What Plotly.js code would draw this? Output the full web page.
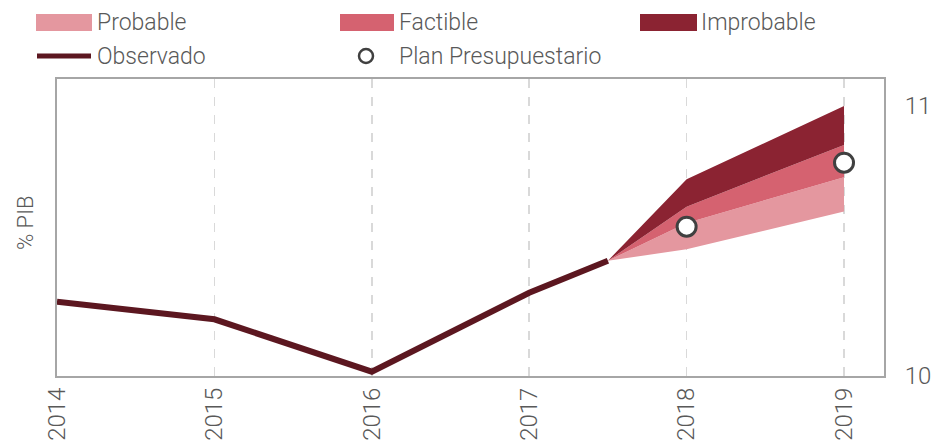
<!DOCTYPE html>
<html>
<head>
<meta charset="utf-8">
<script src="https://cdn.plot.ly/plotly-3.0.1.min.js"></script>
<style>html,body{margin:0;padding:0;background:#fff;}#chart{width:936px;height:446px;}</style>
</head>
<body>
<div id="chart"></div>
<script>
// Observed series
const obsYears = [2014, 2015, 2016, 2017, 2017.5];
const obsValues = [10.275, 10.21, 10.016, 10.308, 10.427];

// Fan chart (forecast bands)
const fanYears = [2017.5, 2018, 2019];
const probableLow = [10.427, 10.469, 10.609];
const probableHigh = [10.427, 10.567, 10.736];
const factibleHigh = [10.427, 10.627, 10.856];
const improbableHigh = [10.427, 10.729, 11.0];

// Plan Presupuestario
const planYears = [2018, 2019];
const planValues = [10.553, 10.79];

const xTicks = [2014, 2015, 2016, 2017, 2018, 2019];
const xTickLabels = ['2014', '2015', '2016', '2017', '2018', '2019'];
const yTicks = [10, 11];
const yTickLabels = ['10', '11'];

const seriesNames = ['Probable', 'Factible', 'Improbable', 'Observado', 'Plan Presupuestario'];
const C = {prob: '#e4979f', fact: '#d56270', impr: '#8b2332', obs: '#5c1720', plan: '#404040', text: '#595959'};
const FONT = 'Roboto, "Open Sans", sans-serif';

const traces = [
  {x: fanYears, y: probableLow, type: 'scatter', mode: 'lines', line: {width: 0}, showlegend: false, hoverinfo: 'skip'},
  {x: fanYears, y: probableHigh, type: 'scatter', mode: 'lines', fill: 'tonexty', fillcolor: C.prob, line: {width: 0}, name: seriesNames[0], showlegend: false},
  {x: fanYears, y: factibleHigh, type: 'scatter', mode: 'lines', fill: 'tonexty', fillcolor: C.fact, line: {width: 0}, name: seriesNames[1], showlegend: false},
  {x: fanYears, y: improbableHigh, type: 'scatter', mode: 'lines', fill: 'tonexty', fillcolor: C.impr, line: {width: 0}, name: seriesNames[2], showlegend: false},
  {x: obsYears, y: obsValues, type: 'scatter', mode: 'lines', line: {color: C.obs, width: 6}, name: seriesNames[3], showlegend: false},
  {x: planYears, y: planValues, type: 'scatter', mode: 'markers', marker: {symbol: 'circle', size: 19, color: '#ffffff', line: {color: C.plan, width: 3}}, name: seriesNames[4], showlegend: false}
];

// pixel -> paper helpers for the hand-made legend
const L = 57, R = 884, T = 79, B = 376;
const px = v => (v - L) / (R - L);
const py = v => (B - v) / (B - T);

const shapes = [
  {type: 'rect', xref: 'paper', yref: 'paper', x0: px(36), x1: px(92), y0: py(31), y1: py(14), fillcolor: C.prob, line: {width: 0}},
  {type: 'rect', xref: 'paper', yref: 'paper', x0: px(340), x1: px(394), y0: py(31), y1: py(14), fillcolor: C.fact, line: {width: 0}},
  {type: 'rect', xref: 'paper', yref: 'paper', x0: px(640), x1: px(697), y0: py(31), y1: py(14), fillcolor: C.impr, line: {width: 0}},
  {type: 'line', xref: 'paper', yref: 'paper', x0: px(37), x1: px(91), y0: py(56), y1: py(56), line: {color: C.obs, width: 5}},
  {type: 'circle', xref: 'paper', yref: 'paper', x0: px(359), x1: px(373), y0: py(63), y1: py(49), fillcolor: '#ffffff', line: {color: C.plan, width: 2.5}}
];

const legendPos = [[95, 22], [397, 22], [699, 22], [95, 56], [397, 56]];
const annotations = seriesNames.map((n, i) => ({
  text: n, xref: 'paper', yref: 'paper', x: px(legendPos[i][0]), y: py(legendPos[i][1]),
  xanchor: 'left', yanchor: 'middle', showarrow: false,
  font: {family: FONT, size: 23, color: C.text, weight: 300}
}));

const layout = {
  width: 936, height: 446,
  margin: {l: L, r: 936 - R, t: T, b: 446 - B, pad: 0},
  paper_bgcolor: '#ffffff', plot_bgcolor: '#ffffff',
  showlegend: false,
  font: {family: FONT, color: C.text},
  xaxis: {
    range: [2014, 2019.254], tickvals: xTicks, ticktext: xTickLabels, tickangle: -90,
    showgrid: true, gridcolor: '#d9d9d9', griddash: 'dash', gridwidth: 1.5,
    zeroline: false, showline: true, mirror: true, linecolor: '#a6a6a6', linewidth: 2,
    ticks: '', ticklen: 0,
    tickfont: {family: FONT, size: 24, color: C.text, weight: 300}
  },
  yaxis: {
    range: [10, 11.1], tickvals: yTicks, ticktext: yTickLabels, side: 'right',
    showgrid: false, zeroline: false, showline: true, mirror: true, linecolor: '#a6a6a6', linewidth: 2,
    ticks: 'outside', ticklen: 14, tickcolor: 'rgba(0,0,0,0)',
    tickfont: {family: FONT, size: 24, color: C.text, weight: 300},
    title: {text: ''}
  },
  shapes: shapes,
  annotations: annotations
};

// y-axis title sits on the left in the reference
layout.annotations.push({
  text: '% PIB', xref: 'paper', yref: 'paper', x: px(25), y: py(223), textangle: -90,
  xanchor: 'center', yanchor: 'middle', showarrow: false,
  font: {family: FONT, size: 22, color: C.text, weight: 300}
});

Plotly.newPlot('chart', traces, layout, {displayModeBar: false, staticPlot: true});
</script>
</body>
</html>
